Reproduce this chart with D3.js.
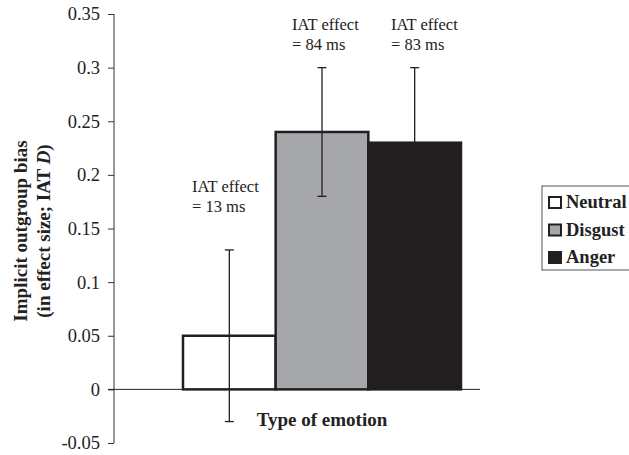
<!DOCTYPE html>
<html>
<head>
<meta charset="utf-8">
<script src="https://cdn.jsdelivr.net/npm/d3@7"></script>
<style>
  body { margin: 0; background: #fff; }
  svg { font-family: "Liberation Serif", "Times New Roman", serif; }
</style>
</head>
<body>
<div id="chart"></div>
<script>
// Data
const emotions = ["Neutral", "Disgust", "Anger"];
const biasValues = [0.05, 0.24, 0.23];
const errLow = [-0.03, 0.18, 0.16];
const errHigh = [0.13, 0.30, 0.30];
const iatEffects = ["= 13 ms", "= 84 ms", "= 83 ms"];
const fills = ["#ffffff", "#a6a7ab", "#231f20"];
const yTicks = [-0.05, 0, 0.05, 0.1, 0.15, 0.2, 0.25, 0.3, 0.35];

const width = 629, height = 455;
const svg = d3.select("#chart").append("svg")
  .attr("width", width)
  .attr("height", height);

const y = d3.scaleLinear().domain([-0.05, 0.35]).range([443, 14]);
const x = d3.scaleBand().domain(emotions).range([183, 461]).padding(0);

// y axis
const yAxis = d3.axisLeft(y)
  .tickValues(yTicks)
  .tickSize(6)
  .tickFormat(d => d === 0 ? "0" : String(+d.toFixed(2)));

const gy = svg.append("g").attr("transform", "translate(114,0)").call(yAxis);
gy.select(".domain").attr("stroke", "#333").attr("d", "M-0,14V443");
gy.selectAll(".tick line").attr("stroke", "#333");
gy.selectAll(".tick text")
  .attr("x", -14)
  .attr("font-size", 18.5)
  .attr("font-family", "Liberation Serif, serif")
  .attr("fill", "#222");

// zero line
svg.append("line")
  .attr("x1", 108).attr("x2", 480)
  .attr("y1", y(0)).attr("y2", y(0))
  .attr("stroke", "#222").attr("stroke-width", 1);

// bars
svg.append("g").selectAll("rect")
  .data(emotions)
  .join("rect")
  .attr("x", d => x(d))
  .attr("width", x.bandwidth())
  .attr("y", (d, i) => y(biasValues[i]))
  .attr("height", (d, i) => y(0) - y(biasValues[i]))
  .attr("fill", (d, i) => fills[i])
  .attr("stroke", "#231f20")
  .attr("stroke-width", 2.5);

// error bars
const eb = svg.append("g").attr("stroke", "#231f20").attr("stroke-width", 1.3);
emotions.forEach((d, i) => {
  const cx = x(d) + x.bandwidth() / 2;
  eb.append("line").attr("x1", cx).attr("x2", cx)
    .attr("y1", y(errLow[i])).attr("y2", y(errHigh[i]));
  [errLow[i], errHigh[i]].forEach(v => {
    eb.append("line").attr("x1", cx - 4.5).attr("x2", cx + 4.5)
      .attr("y1", y(v)).attr("y2", y(v));
  });
});

// IAT annotations
const annX = [192, 292, 391];
const annY = [192, 30, 30];
emotions.forEach((d, i) => {
  const t = svg.append("text")
    .attr("x", annX[i]).attr("y", annY[i])
    .attr("font-size", 16.5).attr("fill", "#222");
  t.append("tspan").attr("x", annX[i]).text("IAT effect");
  t.append("tspan").attr("x", annX[i]).attr("dy", 20).text(iatEffects[i]);
});

// axis titles
svg.append("text")
  .attr("x", 322).attr("y", 426)
  .attr("text-anchor", "middle")
  .attr("font-size", 19).attr("font-weight", "bold").attr("fill", "#222")
  .text("Type of emotion");

const yt = svg.append("text")
  .attr("transform", "translate(27,231) rotate(-90)")
  .attr("text-anchor", "middle")
  .attr("font-size", 19).attr("font-weight", "bold").attr("fill", "#222");
yt.append("tspan").attr("x", 0).attr("y", 0).text("Implicit outgroup bias");
const l2 = yt.append("tspan").attr("x", 0).attr("y", 23);
l2.append("tspan").text("(in effect size; IAT ");
l2.append("tspan").attr("font-style", "italic").text("D");
l2.append("tspan").text(")");

// legend
const lg = svg.append("g");
lg.append("rect")
  .attr("x", 542).attr("y", 186).attr("width", 100).attr("height", 84)
  .attr("fill", "none").attr("stroke", "#555").attr("stroke-width", 1);
emotions.forEach((d, i) => {
  const base = 208 + i * 27.5;
  lg.append("rect")
    .attr("x", 549).attr("y", base - 11).attr("width", 12).attr("height", 11)
    .attr("fill", fills[i]).attr("stroke", "#231f20").attr("stroke-width", 2);
  lg.append("text")
    .attr("x", 566).attr("y", base)
    .attr("font-size", 18.5).attr("font-weight", "bold").attr("fill", "#222")
    .text(d);
});
</script>
</body>
</html>
